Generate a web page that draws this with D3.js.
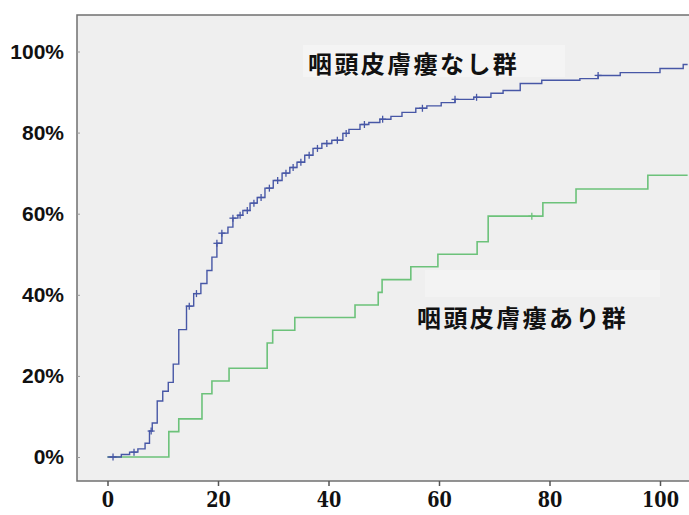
<!DOCTYPE html>
<html lang="ja">
<head>
<meta charset="UTF-8">
<title>累積発生率</title>
<style>
  body { margin: 0; background: #fff; }
</style>
</head>
<body>
<svg width="689" height="515" id="viz"></svg>

<script src="https://d3js.org/d3.v7.min.js"></script>
<script>
// 咽頭皮膚瘻なし群 (blue) - step times and cumulative %
const noneTimes = [0, 2.5, 4.0, 5.5, 6.8, 7.6, 8.1, 9.0, 10.0, 11.0, 11.9, 12.9, 14.3, 15.6, 16.9, 18.0, 18.9, 19.8,
  20.7, 21.8, 22.7, 23.6, 24.5, 25.8, 27.1, 28.5, 30.0, 31.6, 33.0, 34.3, 35.7, 37.2, 38.8, 40.6, 42.6, 43.7,
  45.7, 47.3, 49.3, 51.3, 53.3, 55.8, 57.8, 60.4, 62.9, 66.3, 69.4, 71.6, 74.7, 78.6, 85.5, 88.8, 92.8, 100, 104.2];
const nonePct = [0, 0.6, 1.2, 2.0, 3.4, 6.4, 8.4, 13.8, 16.2, 18.4, 22.9, 31.4, 37.2, 40.3, 42.8, 46.0, 49.3, 52.7,
  55.2, 56.7, 58.9, 59.6, 60.8, 62.6, 64.0, 66.3, 68.2, 70.0, 71.4, 72.7, 74.4, 76.1, 77.3, 78.1, 79.8, 80.8,
  82.0, 82.5, 83.3, 84.0, 85.0, 86.0, 86.6, 87.4, 88.2, 88.7, 89.7, 90.4, 92.1, 92.9, 93.3, 94.1, 94.8, 95.8, 96.8];
const noneCensor = [1.0, 4.8, 7.9, 14.8, 16.1, 19.8, 20.7, 22.7, 24.0, 25.3, 26.5, 27.8, 29.3, 30.8, 32.3, 33.6,
  35.0, 36.5, 38.0, 39.7, 41.6, 43.2, 46.5, 49.8, 57.0, 62.9, 66.8, 88.8];

// 咽頭皮膚瘻あり群 (green)
const withTimes = [0, 11.1, 12.9, 17.1, 18.9, 22.0, 28.9, 29.9, 33.9, 44.8, 49.0, 49.7, 54.9, 59.8, 66.9, 68.9, 78.8, 84.8, 97.8];
const withPct = [0, 6.25, 9.4, 15.6, 18.75, 21.9, 28.1, 31.25, 34.4, 37.5, 40.6, 43.75, 46.9, 50, 53.1, 59.4, 62.7, 66.1, 69.5];
const withCensor = [76.8];

const endTime = 105;
const xTicks = [0, 20, 40, 60, 80, 100];
const yTicks = [0, 20, 40, 60, 80, 100];
const labelNone = "咽頭皮膚瘻なし群";
const labelWith = "咽頭皮膚瘻あり群";

const svg = d3.select("#viz");
const frame = {left: 77, top: 15, right: 689, bottom: 481};

const x = d3.scaleLinear().domain([0, 100]).range([107.5, 660]);
const y = d3.scaleLinear().domain([0, 100]).range([457, 51.5]);

// plot background + frame
svg.append("rect")
  .attr("x", frame.left).attr("y", frame.top)
  .attr("width", frame.right - frame.left).attr("height", frame.bottom - frame.top)
  .attr("fill", "#efefef");

// lighter label boxes
svg.append("rect").attr("x", 303).attr("y", 45).attr("width", 262).attr("height", 32).attr("fill", "#f4f4f4");
svg.append("rect").attr("x", 425).attr("y", 270).attr("width", 235).attr("height", 27).attr("fill", "#f3f3f3");

svg.append("rect")
  .attr("x", frame.left).attr("y", frame.top)
  .attr("width", frame.right - frame.left + 2).attr("height", frame.bottom - frame.top)
  .attr("fill", "none")
  .attr("stroke", "#707070")
  .attr("stroke-width", 1.5);

// axes
const xAxis = svg.append("g")
  .attr("transform", `translate(0,${frame.bottom})`)
  .call(d3.axisBottom(x).tickValues(xTicks).tickSize(5).tickPadding(5));
xAxis.select(".domain").remove();
xAxis.selectAll("line").attr("stroke", "#555").attr("stroke-width", 1.5);
xAxis.selectAll("text")
  .style("font-family", "'DejaVu Serif', 'Liberation Serif', serif")
  .style("font-weight", "bold")
  .style("font-size", "23px")
  .attr("textLength", d => String(d).length * 12.3)
  .attr("lengthAdjust", "spacingAndGlyphs")
  .attr("fill", "#111");

const yAxis = svg.append("g")
  .attr("transform", `translate(${frame.left},0)`)
  .call(d3.axisLeft(y).tickValues(yTicks).tickSize(-3).tickPadding(13).tickFormat(d => d + "%"));
yAxis.select(".domain").remove();
yAxis.selectAll("line").attr("stroke", "#999");
yAxis.selectAll("text")
  .style("font-family", "'Liberation Sans', Arial, sans-serif")
  .style("font-weight", "bold")
  .style("font-size", "21px")
  .attr("fill", "#111");

// step curves
const line = d3.line()
  .x(d => x(d[0]))
  .y(d => y(d[1]))
  .curve(d3.curveStepAfter);

function drawGroup(times, pct, censor, color, width) {
  const pts = times.map((t, i) => [t, pct[i]]);
  pts.push([endTime, pct[pct.length - 1]]);

  svg.append("path")
    .datum(pts)
    .attr("fill", "none")
    .attr("stroke", color)
    .attr("stroke-width", width)
    .attr("d", line);

  const bis = d3.bisector(d => d).right;
  const cen = censor.map(t => [t, pct[Math.max(0, bis(times, t) - 1)]]);

  const marks = svg.append("g");
  marks.selectAll(".h").data(cen).enter().append("line")
    .attr("x1", d => x(d[0]) - 3.5).attr("x2", d => x(d[0]) + 3.5)
    .attr("y1", d => y(d[1])).attr("y2", d => y(d[1]))
    .attr("stroke", color).attr("stroke-width", 1.3);
  marks.selectAll(".v").data(cen).enter().append("line")
    .attr("x1", d => x(d[0])).attr("x2", d => x(d[0]))
    .attr("y1", d => y(d[1]) - 3.5).attr("y2", d => y(d[1]) + 3.5)
    .attr("stroke", color).attr("stroke-width", 1.3);
}

drawGroup(withTimes, withPct, withCensor, "#6cc27a", 1.6);
drawGroup(noneTimes, nonePct, noneCensor, "#4757a6", 1.4);

// group labels
svg.append("text")
  .attr("x", 308).attr("y", 62.5)
  .attr("dominant-baseline", "central")
  .style("font-family", "'Noto Sans CJK JP', sans-serif")
  .style("font-weight", "bold")
  .style("font-size", "24px")
  .style("letter-spacing", "2.4px")
  .attr("fill", "#111")
  .text(labelNone);

svg.append("text")
  .attr("x", 417).attr("y", 316)
  .attr("dominant-baseline", "central")
  .style("font-family", "'Noto Sans CJK JP', sans-serif")
  .style("font-weight", "bold")
  .style("font-size", "24px")
  .style("letter-spacing", "2.4px")
  .attr("fill", "#111")
  .text(labelWith);
</script>
</body>
</html>
